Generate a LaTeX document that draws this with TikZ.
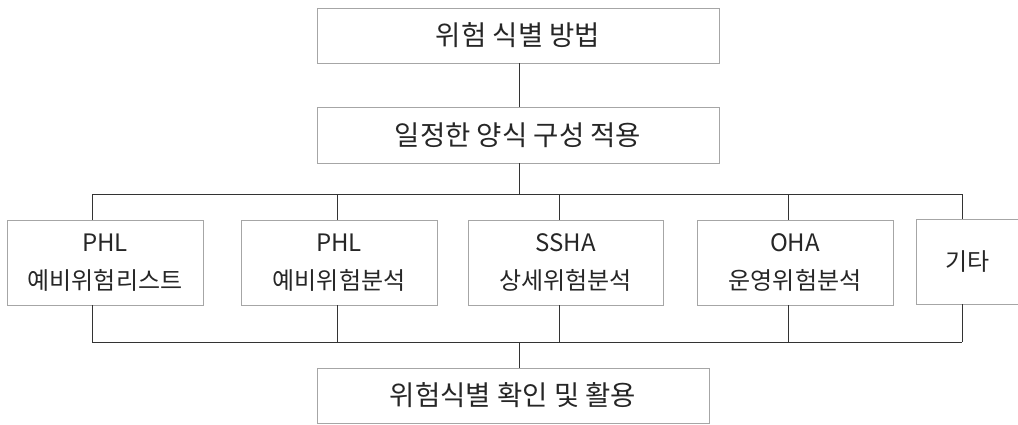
\documentclass[tikz,border=0pt]{standalone}
\usepackage{fontspec}
\setmainfont{Noto Sans CJK KR}
\begin{document}
\begin{tikzpicture}[x=1pt,y=-1pt,
  box/.style={draw=black!35, line width=0.7pt, inner sep=0pt, align=center, text=black!85},
  bigbox/.style={box, font=\fontsize{27.5}{31}\selectfont},
  rowbox/.style={box, minimum height=85pt, font=\fontsize{24}{38}\selectfont},
  conn/.style={draw=black!80, line width=0.7pt}]
\useasboundingbox (0,0) rectangle (1018,424);
\node[bigbox, minimum width=402pt, minimum height=55pt] (top) at (518,35.5) {위험 식별 방법};
\node[bigbox, minimum width=402pt, minimum height=56pt] (mid) at (518,135) {일정한 양식 구성 적용};
\node[rowbox, minimum width=196pt] (b1) at (105,262.5) {PHL\\예비위험리스트};
\node[rowbox, minimum width=196pt] (b2) at (339,262.5) {PHL\\예비위험분석};
\node[rowbox, minimum width=195pt] (b3) at (565.5,262.5) {SSHA\\상세위험분석};
\node[rowbox, minimum width=196pt] (b4) at (795,262.5) {OHA\\운영위험분석};
\node[rowbox, minimum width=103pt] (b5) at (967.5,261.5) {기타};
\node[bigbox, minimum width=392pt, minimum height=55pt] (bot) at (513,395.5) {위험식별 확인 및 활용};
% bus coordinates
\coordinate (ua) at (519,194);
\coordinate (u1) at (92,194);
\coordinate (u2) at (337,194);
\coordinate (u3) at (559,194);
\coordinate (u4) at (788,194);
\coordinate (u5) at (962,194);
\coordinate (la) at (519,342);
\coordinate (l1) at (92,342);
\coordinate (l2) at (337,342);
\coordinate (l3) at (559,342);
\coordinate (l4) at (788,342);
\coordinate (l5) at (962,342);
\draw[conn] (top.south -| ua) -- (mid.north -| ua);
\draw[conn] (mid.south -| ua) -- (ua);
\draw[conn] (u1) -- (u5);
\draw[conn] (u1) -- (u1 |- b1.north);
\draw[conn] (u2) -- (u2 |- b2.north);
\draw[conn] (u3) -- (u3 |- b3.north);
\draw[conn] (u4) -- (u4 |- b4.north);
\draw[conn] (u5) -- (u5 |- b5.north);
\draw[conn] (l1 |- b1.south) -- (l1);
\draw[conn] (l2 |- b2.south) -- (l2);
\draw[conn] (l3 |- b3.south) -- (l3);
\draw[conn] (l4 |- b4.south) -- (l4);
\draw[conn] (l5 |- b5.south) -- (l5);
\draw[conn] (l1) -- (l5);
\draw[conn] (la) -- (la |- bot.north);
\end{tikzpicture}
\end{document}
